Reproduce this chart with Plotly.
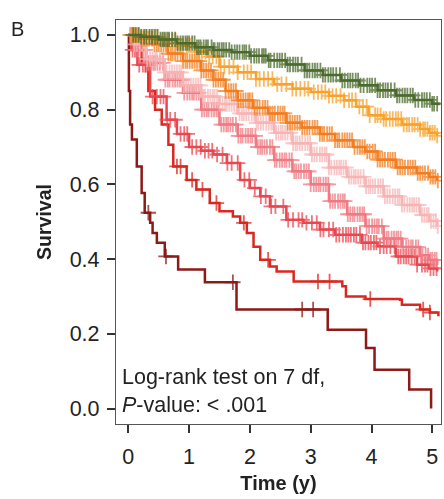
import numpy as np
import plotly.graph_objects as go

# ---- data ----
green_t = [0, 0.2, 0.5, 0.8, 1.1, 1.4, 1.7, 2.0, 2.3, 2.6, 2.9, 3.2, 3.5, 3.8, 4.1, 4.4, 4.7, 5.0, 5.1]
green_s = [1.0, 0.995, 0.988, 0.978, 0.967, 0.960, 0.954, 0.944, 0.932, 0.921, 0.905, 0.893, 0.878, 0.865, 0.852, 0.838, 0.826, 0.816, 0.812]
green_c = [0.08, 0.12, 0.17, 0.21, 0.26, 0.3, 0.35, 0.39, 0.44, 0.48, 0.53, 0.57, 0.6, 0.64, 0.67, 0.72, 0.77, 0.81, 0.86, 0.9, 0.94, 0.97,
           1.0, 1.05, 1.09, 1.13, 1.16, 1.19, 1.24, 1.28, 1.31, 1.37, 1.4, 1.42, 1.47, 1.5, 1.54, 1.57, 1.61, 1.66, 1.7, 1.75, 1.79,
           1.83, 1.88, 1.91, 1.94, 1.99, 2.02, 2.07, 2.11, 2.15, 2.2, 2.23, 2.26, 2.31, 2.34, 2.4, 2.45, 2.49, 2.53, 2.58, 2.62,
           2.66, 2.71, 2.75, 2.79, 2.85, 2.9, 2.94, 2.98, 3.03, 3.07, 3.11, 3.16, 3.2, 3.24, 3.29, 3.33, 3.37, 3.42, 3.48, 3.52,
           3.56, 3.61, 3.65, 3.69, 3.74, 3.78, 3.82, 3.87, 3.93, 3.97, 4.01, 4.06, 4.1, 4.14, 4.19, 4.23, 4.27, 4.32, 4.38, 4.42,
           4.46, 4.51, 4.55, 4.59, 4.64, 4.68, 4.72, 4.77, 4.83, 4.87, 4.91, 4.96, 5.0, 5.03, 5.08]

lorange_t = [0, 0.2, 0.5, 0.8, 1.1, 1.3, 1.5, 1.8, 2.1, 2.4, 2.7, 3.0, 3.3, 3.55, 3.75, 3.95, 4.2, 4.5, 4.8, 4.95, 5.08]
lorange_s = [1.0, 0.995, 0.985, 0.972, 0.955, 0.942, 0.915, 0.900, 0.882, 0.868, 0.856, 0.847, 0.837, 0.825, 0.808, 0.785, 0.775, 0.760, 0.748, 0.738, 0.730]
lorange_c = [0.06, 0.1, 0.16, 0.22, 0.29, 0.35, 0.42, 0.48, 0.55, 0.61, 0.67, 0.73, 0.78, 0.84, 0.9, 0.96, 1.02, 1.1, 1.15, 1.21, 1.27,
             1.33, 1.39, 1.45, 1.52, 1.58, 1.66, 1.73, 1.8, 1.9, 1.96, 2.02, 2.1, 2.16, 2.23, 2.3, 2.37, 2.45, 2.52, 2.6, 2.7, 2.76,
             2.83, 2.9, 2.96, 3.05, 3.12, 3.18, 3.24, 3.3, 3.36, 3.42, 3.49, 3.55, 3.63, 3.68, 3.74, 3.8, 3.86, 3.92, 3.97, 4.06,
             4.1, 4.15, 4.2, 4.24, 4.3, 4.35, 4.4, 4.44, 4.49, 4.53, 4.58, 4.62, 4.67, 4.71, 4.76, 4.8, 4.85, 4.88, 4.92, 4.96, 5.0, 5.04, 5.08]

orange_t = [0, 0.2, 0.4, 0.65, 0.9, 1.2, 1.4, 1.6, 1.8, 2.05, 2.3, 2.6, 2.85, 3.15, 3.4, 3.7, 3.9, 4.1, 4.4, 4.75, 4.95, 5.08]
orange_s = [1.0, 0.99, 0.975, 0.95, 0.93, 0.905, 0.88, 0.85, 0.825, 0.805, 0.79, 0.765, 0.752, 0.735, 0.718, 0.70, 0.688, 0.666, 0.645, 0.63, 0.62, 0.61]
orange_c = [0.05, 0.08, 0.13, 0.17, 0.22, 0.26, 0.3, 0.34, 0.39, 0.43, 0.47, 0.5, 0.54, 0.58, 0.62, 0.66, 0.7, 0.73, 0.77, 0.81, 0.86,
            0.9, 0.94, 0.97, 1.01, 1.05, 1.09, 1.13, 1.17, 1.2, 1.24, 1.28, 1.32, 1.36, 1.4, 1.44, 1.48, 1.52, 1.56, 1.6, 1.65,
            1.69, 1.73, 1.77, 1.81, 1.85, 1.89, 1.93, 1.97, 2.0, 2.04, 2.08, 2.12, 2.16, 2.21, 2.25, 2.29, 2.33, 2.37, 2.41, 2.46,
            2.5, 2.54, 2.57, 2.62, 2.66, 2.7, 2.74, 2.78, 2.82, 2.86, 2.9, 2.94, 2.98, 3.03, 3.07, 3.11, 3.15, 3.19, 3.22, 3.27,
            3.31, 3.35, 3.4, 3.44, 3.47, 3.52, 3.56, 3.6, 3.64, 3.68, 3.72, 3.77, 3.81, 3.85, 3.89, 3.93, 3.97, 4.02, 4.06, 4.1,
            4.14, 4.18, 4.22, 4.27, 4.31, 4.35, 4.39, 4.43, 4.47, 4.51, 4.55, 4.6, 4.64, 4.68, 4.72, 4.76, 4.8, 4.84, 4.88, 4.93,
            4.97, 5.01, 5.05, 5.09]

lpink_t = [0, 0.1, 0.3, 0.6, 0.9, 1.2, 1.5, 1.8, 2.1, 2.4, 2.7, 3.0, 3.3, 3.6, 3.9, 4.2, 4.5, 4.8, 4.95, 5.08]
lpink_s = [1.0, 0.975, 0.935, 0.90, 0.865, 0.835, 0.815, 0.79, 0.765, 0.738, 0.71, 0.68, 0.645, 0.62, 0.595, 0.568, 0.545, 0.518, 0.502, 0.488]
lpink_c = [0.04, 0.06, 0.1, 0.14, 0.19, 0.23, 0.27, 0.31, 0.36, 0.4, 0.44, 0.47, 0.52, 0.56, 0.6, 0.63, 0.68, 0.72, 0.76, 0.8, 0.84,
           0.87, 0.91, 0.95, 0.99, 1.03, 1.07, 1.11, 1.15, 1.19, 1.23, 1.26, 1.31, 1.35, 1.39, 1.42, 1.46, 1.5, 1.55, 1.59, 1.62,
           1.66, 1.7, 1.74, 1.78, 1.83, 1.87, 1.9, 1.94, 1.98, 2.03, 2.07, 2.11, 2.14, 2.18, 2.22, 2.27, 2.31, 2.35, 2.38, 2.43,
           2.47, 2.51, 2.54, 2.58, 2.62, 2.67, 2.71, 2.75, 2.78, 2.82, 2.86, 2.91, 2.95, 2.99, 3.02, 3.06, 3.1, 3.15, 3.19, 3.23,
           3.26, 3.3, 3.34, 3.39, 3.43, 3.47, 3.5, 3.54, 3.58, 3.63, 3.67, 3.71, 3.74, 3.78, 3.82, 3.87, 3.91, 3.95, 3.98, 4.02,
           4.06, 4.11, 4.15, 4.19, 4.22, 4.26, 4.3, 4.35, 4.39, 4.43, 4.46, 4.5, 4.54, 4.59, 4.63, 4.67, 4.7, 4.74, 4.78, 4.83,
           4.87, 4.91, 4.94, 4.98, 5.02, 5.06, 5.09]

pink_t = [0, 0.1, 0.3, 0.6, 0.9, 1.2, 1.5, 1.8, 2.1, 2.4, 2.7, 3.0, 3.3, 3.6, 3.9, 4.2, 4.5, 4.8, 4.95, 5.08]
pink_s = [1.0, 0.96, 0.925, 0.88, 0.845, 0.80, 0.76, 0.73, 0.70, 0.665, 0.635, 0.60, 0.555, 0.52, 0.488, 0.455, 0.432, 0.41, 0.398, 0.385]
pink_c = [0.03, 0.05, 0.09, 0.12, 0.16, 0.2, 0.24, 0.28, 0.33, 0.37, 0.41, 0.44, 0.48, 0.52, 0.57, 0.61, 0.65, 0.68, 0.73, 0.77, 0.81,
          0.85, 0.89, 0.92, 0.97, 1.01, 1.05, 1.08, 1.12, 1.16, 1.21, 1.25, 1.29, 1.32, 1.37, 1.41, 1.45, 1.48, 1.53, 1.57, 1.61,
          1.64, 1.68, 1.72, 1.77, 1.81, 1.85, 1.88, 1.93, 1.97, 2.01, 2.04, 2.09, 2.13, 2.17, 2.2, 2.24, 2.28, 2.33, 2.37, 2.41,
          2.44, 2.49, 2.53, 2.57, 2.6, 2.65, 2.69, 2.73, 2.76, 2.8, 2.84, 2.89, 2.93, 2.97, 3.0, 3.05, 3.09, 3.13, 3.16, 3.21,
          3.25, 3.29, 3.32, 3.36, 3.4, 3.45, 3.49, 3.53, 3.56, 3.61, 3.65, 3.69, 3.72, 3.77, 3.81, 3.85, 3.88, 3.92, 3.96, 4.01,
          4.05, 4.09, 4.12, 4.17, 4.21, 4.25, 4.28, 4.33, 4.37, 4.41, 4.44, 4.48, 4.52, 4.57, 4.61, 4.65, 4.68, 4.73, 4.77, 4.81,
          4.84, 4.89, 4.93, 4.97, 5.0, 5.04, 5.07]

salmon_t = [0, 0.05, 0.15, 0.36, 0.63, 0.8, 1.0, 1.2, 1.4, 1.62, 1.84, 2.0, 2.17, 2.33, 2.6, 2.88, 3.15, 3.4, 3.84, 4.1, 4.4, 4.75, 4.95, 5.08]
salmon_s = [1.0, 0.96, 0.92, 0.835, 0.773, 0.735, 0.70, 0.69, 0.68, 0.657, 0.612, 0.59, 0.568, 0.541, 0.505, 0.497, 0.479, 0.465, 0.444, 0.434, 0.407, 0.385, 0.375, 0.367]
salmon_c = [0.07, 0.11, 0.18, 0.24, 0.29, 0.33, 0.4, 0.47, 0.53, 0.58, 0.64, 0.69, 0.77, 0.86, 0.92, 0.97, 1.05, 1.12, 1.19, 1.26,
            1.32, 1.38, 1.46, 1.55, 1.63, 1.7, 1.8, 1.91, 1.99, 2.08, 2.18, 2.26, 2.35, 2.42, 2.55, 2.63, 2.71, 2.8, 2.86, 2.93,
            3.02, 3.1, 3.16, 3.21, 3.3, 3.37, 3.42, 3.47, 3.53, 3.58, 3.62, 3.66, 3.71, 3.75, 3.81, 3.86, 3.9, 3.95, 3.99, 4.04,
            4.08, 4.14, 4.2, 4.25, 4.31, 4.38, 4.44, 4.48, 4.53, 4.57, 4.61, 4.66, 4.71, 4.75, 4.83, 4.88, 4.92, 4.97, 5.02, 5.07]

red_t = [0, 0.05, 0.11, 0.22, 0.33, 0.44, 0.55, 0.66, 0.74, 0.96, 1.12, 1.34, 1.5, 1.72, 1.84, 1.95, 2.06, 2.17, 2.33, 2.44, 2.72, 3.3, 3.52, 3.58, 3.9, 4.47, 4.5, 4.8, 4.96, 5.1]
red_s = [1.0, 0.99, 0.973, 0.92, 0.85, 0.80, 0.76, 0.706, 0.648, 0.612, 0.586, 0.55, 0.528, 0.514, 0.497, 0.47, 0.433, 0.398, 0.38, 0.367, 0.34, 0.34, 0.327, 0.30, 0.293, 0.291, 0.278, 0.265, 0.257, 0.247]
red_c = [0.15, 0.28, 0.8, 0.86, 1.05, 1.22, 1.45, 1.9, 2.3, 3.12, 3.31, 3.98, 4.85, 4.96]

dred_t = [0, 0.01, 0.03, 0.06, 0.14, 0.22, 0.27, 0.36, 0.4, 0.47, 0.6, 0.82, 1.26, 1.78, 3.28, 3.91, 4.05, 4.62, 4.98]
dred_s = [1.0, 0.85, 0.76, 0.72, 0.648, 0.577, 0.524, 0.497, 0.47, 0.444, 0.407, 0.372, 0.338, 0.265, 0.211, 0.162, 0.104, 0.051, 0.0]
dred_c = [0.33, 0.62, 1.72, 2.86, 3.04]

series = [
    (dred_t, dred_s, dred_c, "#8c1a17"),
    (red_t, red_s, red_c, "#d8281f"),
    (salmon_t, salmon_s, salmon_c, "#e9474f"),
    (pink_t, pink_s, pink_c, "#ef7a82"),
    (lpink_t, lpink_s, lpink_c, "#f6b4b4"),
    (orange_t, orange_s, orange_c, "#f27d1f"),
    (lorange_t, lorange_s, lorange_c, "#f8a22c"),
    (green_t, green_s, green_c, "#4b6b2c"),
]

fig = go.Figure()
for t, s, c, col in series:
    t_arr = np.array(t)
    s_arr = np.array(s)
    fig.add_trace(go.Scatter(x=t, y=s, mode="lines", line=dict(color=col, width=2.5, shape="hv"),
                             showlegend=False, hoverinfo="skip"))
    c_arr = np.array(c)
    idx = np.searchsorted(t_arr, c_arr, side="right") - 1
    fig.add_trace(go.Scatter(x=c_arr, y=s_arr[idx], mode="markers",
                             marker=dict(symbol="cross-thin", size=11, line=dict(color=col, width=1.8)),
                             opacity=0.75, showlegend=False, hoverinfo="skip"))

font_fam = "Liberation Sans, Arial, sans-serif"
fig.update_layout(
    width=444, height=499,
    margin=dict(l=116, r=3, t=20, b=75),
    paper_bgcolor="white", plot_bgcolor="white",
    font=dict(family=font_fam, color="#222", size=21),
    xaxis=dict(range=[-0.202, 5.143], tickvals=[0, 1, 2, 3, 4, 5], ticktext=["0", "1", "2", "3", "4", "5"],
               showgrid=False, zeroline=False, showline=True, mirror=True, linecolor="#555", linewidth=1.3,
               ticks="outside", ticklen=8, tickwidth=1.6, tickcolor="#333", ticklabelstandoff=5,
               tickfont=dict(size=21.5, color="#222"),
               title=dict(text="<b>Time (y)</b>", font=dict(size=20, color="#222"), standoff=8)),
    yaxis=dict(range=[-0.0415, 1.040], tickvals=[0, 0.2, 0.4, 0.6, 0.8, 1.0],
               ticktext=["0.0", "0.2", "0.4", "0.6", "0.8", "1.0"],
               showgrid=False, zeroline=False, showline=True, mirror=True, linecolor="#555", linewidth=1.3,
               ticks="outside", ticklen=8, tickwidth=1.6, tickcolor="#333", ticklabelstandoff=3,
               tickfont=dict(size=21.5, color="#222"),
               title=dict(text="<b>Survival</b>", font=dict(size=19.5, color="#222"), standoff=12)),
    annotations=[
        dict(text="Log-rank test on 7 df,<br><i>P</i>-value: &lt; .001", xref="paper", yref="paper",
             x=0.012, y=0.012, xanchor="left", yanchor="bottom", showarrow=False, align="left",
             font=dict(size=21.5, color="#222")),
        dict(text="B", xref="paper", yref="paper", x=-0.33, y=1.0, xanchor="left", yanchor="bottom",
             showarrow=False, font=dict(size=20, color="#222"), yshift=-22),
    ],
)

fig.write_html("out.html", config={"displayModeBar": False},
               post_script="document.body.style.margin='0';")
